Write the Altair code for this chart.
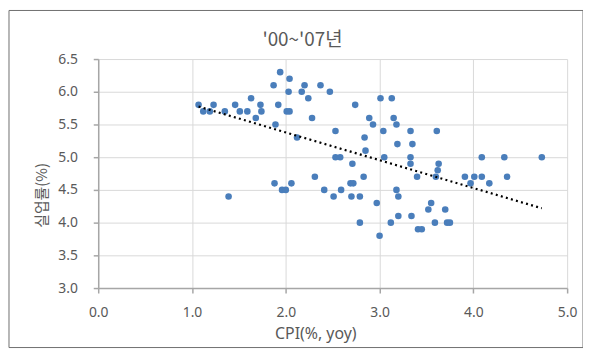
import altair as alt
import pandas as pd

cpi = [1.07, 1.12, 1.19, 1.23, 1.35, 1.46, 1.51, 1.59, 1.63, 1.68, 1.73, 1.74, 1.87, 1.89, 1.92,
       1.94, 2.04, 2.20, 2.37, 2.03, 2.17, 2.47, 2.24, 2.01, 2.04, 2.74, 3.01, 3.13, 2.28, 2.89,
       2.93, 3.15, 3.18, 2.53, 3.04, 3.33, 3.61, 2.12, 2.84, 3.19, 3.35, 2.85, 2.53, 2.58, 3.05,
       3.33, 2.71, 3.33, 3.63, 3.62, 3.60, 3.40, 2.83, 2.31, 4.09, 4.33, 4.73, 3.91, 4.01, 4.09,
       4.36, 3.97, 4.17, 3.55, 3.52, 3.70, 3.59, 3.72, 3.75, 1.39, 1.88, 2.06, 1.96, 2.00, 2.41,
       2.51, 2.59, 2.69, 2.72, 2.70, 2.79, 2.97, 3.18, 3.20, 2.79, 3.12, 3.20, 3.34, 3.00, 3.41,
       3.45]
unemp = [5.8, 5.7, 5.7, 5.8, 5.7, 5.8, 5.7, 5.7, 5.9, 5.6, 5.8, 5.7, 6.1, 5.5, 5.8,
         6.3, 6.2, 6.1, 6.1, 6.0, 6.0, 6.0, 5.9, 5.7, 5.7, 5.8, 5.9, 5.9, 5.6, 5.6,
         5.5, 5.6, 5.5, 5.4, 5.4, 5.4, 5.4, 5.3, 5.3, 5.2, 5.2, 5.1, 5.0, 5.0, 5.0,
         5.0, 4.9, 4.9, 4.9, 4.8, 4.7, 4.7, 4.7, 4.7, 5.0, 5.0, 5.0, 4.7, 4.7, 4.7,
         4.7, 4.6, 4.6, 4.3, 4.2, 4.2, 4.0, 4.0, 4.0, 4.4, 4.6, 4.6, 4.5, 4.5, 4.5,
         4.4, 4.5, 4.6, 4.6, 4.4, 4.4, 4.3, 4.5, 4.4, 4.0, 4.0, 4.1, 4.1, 3.8, 3.9,
         3.9]

x_ticks = [0.0, 1.0, 2.0, 3.0, 4.0, 5.0]
y_ticks = [3.0, 3.5, 4.0, 4.5, 5.0, 5.5, 6.0, 6.5]

title_text = "'00~'07년"
x_title = "CPI(%, yoy)"
y_title = "실업률(%)"

df = pd.DataFrame({"cpi": cpi, "unemp": unemp})

W, H = 473, 231
grey = "#595959"
font = "Noto Sans CJK KR"

xs = alt.X("cpi:Q", scale=alt.Scale(domain=[0, 5], nice=False, zero=False),
           axis=alt.Axis(values=x_ticks, format=".1f", title=x_title,
                         labelFlush=False, labelOverlap=False,
                         titleX=219, titleY=46, titleBaseline="middle"))
ys = alt.Y("unemp:Q", scale=alt.Scale(domain=[3, 6.5], nice=False, zero=False),
           axis=alt.Axis(values=y_ticks, format=".1f", title=y_title,
                         labelFlush=False, labelOverlap=False,
                         titleX=-57, titleY=137, titleBaseline="middle"))

base = alt.Chart(df)

points = base.mark_point(filled=True, shape="circle", size=44, opacity=1,
                         color="#4a7ebb").encode(x=xs, y=ys)

trend = base.transform_regression("cpi", "unemp").mark_line(
    color="black", strokeWidth=2.2, strokeDash=[2, 3.3]).encode(x=xs, y=ys)

frame = alt.Chart(pd.DataFrame({"a": [0]})).mark_rect(
    fill=None, stroke="#6f6f6f", strokeWidth=1).encode(
    x=alt.value(-90), x2=alt.value(489), y=alt.value(-49), y2=alt.value(291))

title = alt.Chart(pd.DataFrame({"t": [title_text]})).mark_text(
    font=font, fontSize=19, color=grey, align="center", baseline="middle").encode(
    x=alt.value(206), y=alt.value(-19), text="t:N")

chart = alt.layer(frame, points, trend, title).properties(
    width=W, height=H,
    autosize=alt.AutoSizeParams(type="none"),
    padding={"left": 91, "top": 50, "right": 16, "bottom": 62},
).configure_view(stroke=None).configure_axis(
    labelFont="Noto Sans", labelFontSize=14, labelColor=grey,
    titleFont=font, titleFontSize=15, titleColor=grey, titleFontWeight="normal",
    gridColor="#d9d9d9", gridWidth=1,
    domainColor="#a6a6a6", domainWidth=1.5, tickColor="#a6a6a6", tickWidth=1.5, tickSize=5,
).configure_axisX(labelPadding=13, titleFontSize=16, titleFont="Noto Sans").configure_axisY(labelPadding=16)

chart.save("out.html", embed_options={"renderer": "svg", "actions": False})
